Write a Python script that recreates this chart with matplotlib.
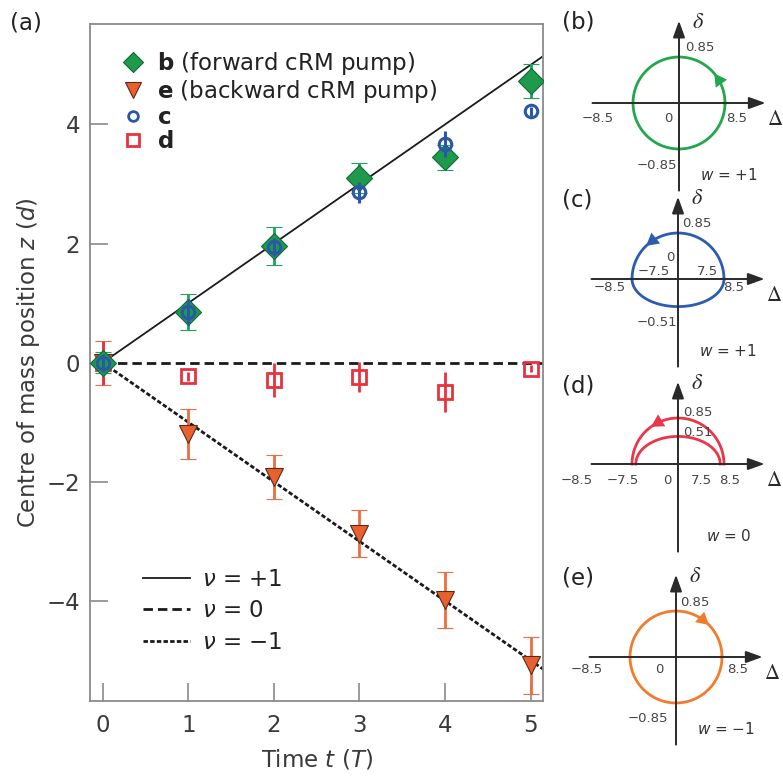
import numpy as np
import matplotlib
matplotlib.use("Agg")
import matplotlib.pyplot as plt
from matplotlib.lines import Line2D

plt.rcParams['font.family'] = ['DejaVu Sans']
plt.rcParams['mathtext.fontset'] = 'dejavusans'

# ---- data, panel (a) ----
t = [0, 1, 2, 3, 4, 5]
z_b = [0.0, 0.85, 1.96, 3.10, 3.45, 4.73]       # forward cRM pump
err_b = [0.18, 0.30, 0.32, 0.25, 0.21, 0.28]
z_e = [0.0, -1.19, -1.92, -2.87, -3.99, -5.08]  # backward cRM pump
err_e = [0.37, 0.42, 0.37, 0.40, 0.47, 0.48]
z_c = [0.0, 0.85, 1.94, 2.86, 3.67, 4.22]
err_c = [0.15, 0.22, 0.15, 0.18, 0.22, 0.08]
z_d = [0.0, -0.23, -0.29, -0.24, -0.49, -0.10]
err_d = [0.37, 0.07, 0.29, 0.25, 0.34, 0.06]

nu_values = [1, 0, -1]
nu_labels = [r'$\nu$ = +1', r'$\nu$ = 0', r'$\nu$ = −1']

# ---- data, panels (b)-(e): loops in (Δ, δ) plane ----
delta_max = 8.5
delta_inner = 7.8
small_delta = [0.85, 0.51]
panel_tags = ['(b)', '(c)', '(d)', '(e)']
w_labels = [r'$w$ = +1', r'$w$ = +1', r'$w$ = 0', r'$w$ = −1']
arrow_deg = [40, 134, 126, 44]
arrow_dir = [1, 1, 1, -1]

GREEN, ORANGE, BLUE, RED = '#1d9a4c', '#e8602e', '#2b57a7', '#e8333f'
LOOP_COLORS = ['#22a84c', '#2c5cb0', '#ea3648', '#f27b2c']

W, H = 783, 781
fig = plt.figure(figsize=(W / 100, H / 100), dpi=100)

# ==========================
# PANEL (a)
# ==========================
ax = fig.add_axes([90 / W, 1 - 701 / H, 453.3 / W, 676.7 / H])
ax.set_xlim(-0.148, 5.147)
ax.set_ylim(-5.68, 5.68)

t_line = np.array([0, 5.4])
ax.plot(t_line, nu_values[0] * t_line, color='#1a1a1a', lw=1.3, zorder=2)
ax.plot(t_line, nu_values[1] * t_line, color='#1a1a1a', lw=2.0, dashes=(3.4, 1.8), zorder=2)
ax.plot(t_line, nu_values[2] * t_line, color='#1a1a1a', lw=2.0, dashes=(1.6, 0.8), zorder=2)

ax.errorbar(t, z_e, yerr=err_e, fmt='v', ms=13, mfc=ORANGE, mec='#5a2a18', mew=0.8,
            ecolor='#ee6c40', elinewidth=2, capsize=6, capthick=2, zorder=3)
ax.errorbar(t, z_d, yerr=err_d, fmt='s', ms=10.5, mfc='none', mec=RED, mew=2,
            ecolor=RED, elinewidth=2, capsize=0, zorder=3)
ax.errorbar(t, z_b, yerr=err_b, fmt='D', ms=13, mfc=GREEN, mec='#0e6a34', mew=0.8,
            ecolor='#1fa35c', elinewidth=2, capsize=6, capthick=2, zorder=4)
ax.errorbar(t, z_c, yerr=err_c, fmt='o', ms=9, mfc='none', mec=BLUE, mew=2.2,
            ecolor=BLUE, elinewidth=2.2, capsize=0, zorder=5)

ax.set_xticks(t)
ax.set_yticks([-4, -2, 0, 2, 4])
ax.tick_params(direction='in', length=13, width=1.1, color='#808080',
               labelsize=16.5, labelcolor='#3a3a3a', pad=7)
ax.tick_params(axis='x', pad=9)
for s in ax.spines.values():
    s.set_color('#8a8a8a')
    s.set_linewidth(1.3)

ax.set_xlabel(r'Time $t$ ($T$)', fontsize=16.5, color='#3a3a3a', va='top')
ax.xaxis.set_label_coords(0.5, -0.069)
ax.set_ylabel(r'Centre of mass position $z$ ($d$)', fontsize=16.5, color='#3a3a3a')
ax.yaxis.set_label_coords(-0.106, 0.5)

pt_handles = [
    Line2D([], [], ls='none', marker='D', ms=10, mfc=GREEN, mec='#0e6a34', mew=0.8),
    Line2D([], [], ls='none', marker='v', ms=11, mfc=ORANGE, mec='#5a2a18', mew=0.8),
    Line2D([], [], ls='none', marker='o', ms=7, mfc='none', mec=BLUE, mew=2),
    Line2D([], [], ls='none', marker='s', ms=8, mfc='none', mec=RED, mew=2),
]
pt_labels = [r'$\mathbf{b}$ (forward cRM pump)', r'$\mathbf{e}$ (backward cRM pump)',
             r'$\mathbf{c}$', r'$\mathbf{d}$']
leg1 = ax.legend(pt_handles, pt_labels, loc='upper left', bbox_to_anchor=(0.070, 0.962),
                 frameon=False, fontsize=16.5, handlelength=1.0, handletextpad=0.52,
                 labelspacing=0.04, borderpad=0, borderaxespad=0, labelcolor='#222222')
ax.add_artist(leg1)

ln_handles = [
    Line2D([], [], color='#1a1a1a', lw=1.3),
    Line2D([], [], color='#1a1a1a', lw=2.0, dashes=(3.4, 1.8)),
    Line2D([], [], color='#1a1a1a', lw=2.0, dashes=(1.6, 0.8)),
]
ax.legend(ln_handles, nu_labels, loc='lower left', bbox_to_anchor=(0.1176, 0.070),
          frameon=False, fontsize=16.5, handlelength=2.04, handletextpad=0.51,
          labelspacing=0.37, borderpad=0, borderaxespad=0, labelcolor='#222222')

fig.text(10 / W, 1 - 23 / H, '(a)', fontsize=16.5, va='center', ha='left', color='#222222')

# ==========================
# PANELS (b)-(e)
# ==========================
PPX, PPY = 5.41, 54.1          # pixels per unit of Δ and δ
XL, YL = (-17.0, 20.0), (-1.75, 1.65)
origins = [(679, 103), (678, 279), (678, 464), (676, 657)]
tag_y = [22, 200, 386, 578]
NUM = dict(fontsize=9.5, color='#444444', ha='center', va='center')

theta_full = np.linspace(0, 2 * np.pi, 300)
theta_up = np.linspace(0, np.pi, 150)
theta_dn = np.linspace(np.pi, 2 * np.pi, 150)

for i, (cx, cy) in enumerate(origins):
    left = (cx + XL[0] * PPX) / W
    bottom = 1 - (cy - YL[0] * PPY) / H
    pa = fig.add_axes([left, bottom, (XL[1] - XL[0]) * PPX / W, (YL[1] - YL[0]) * PPY / H])
    pa.set_xlim(*XL)
    pa.set_ylim(*YL)
    pa.axis('off')
    col = LOOP_COLORS[i]

    arr = dict(arrowstyle='-|>,head_length=0.5,head_width=0.18', color='#2a2a2a', lw=1.4,
               mutation_scale=20, shrinkA=0, shrinkB=0)
    pa.annotate('', xy=(16.0, 0), xytext=(-16.0, 0), arrowprops=arr)
    pa.annotate('', xy=(0, 1.52), xytext=(0, -1.62), arrowprops=arr)
    pa.text(3.6, 1.5, r'$\delta$', fontsize=16, color='#2a2a2a', ha='center', va='center',
            math_fontfamily='stix')
    pa.text(17.7, -0.3, r'$\Delta$', fontsize=15, color='#2a2a2a', ha='center', va='center',
            math_fontfamily='stix')

    if i in (0, 3):
        pa.plot(delta_max * np.cos(theta_full), small_delta[0] * np.sin(theta_full), color=col, lw=2)
    elif i == 1:
        pa.plot(delta_max * np.cos(theta_up), small_delta[0] * np.sin(theta_up), color=col, lw=2)
        pa.plot(delta_max * np.cos(theta_dn), small_delta[1] * np.sin(theta_dn), color=col, lw=2)
    else:
        pa.plot(delta_max * np.cos(theta_up), small_delta[0] * np.sin(theta_up), color=col, lw=2)
        pa.plot(delta_inner * np.cos(theta_up), small_delta[1] * np.sin(theta_up), color=col, lw=2)

    # direction arrowhead on the loop (head at arrow_deg, tail 10 degrees back)
    a1 = np.radians(arrow_deg[i])
    a0 = a1 - arrow_dir[i] * np.radians(10)
    pa.annotate('', xy=(delta_max * np.cos(a1), small_delta[0] * np.sin(a1)),
                xytext=(delta_max * np.cos(a0), small_delta[0] * np.sin(a0)),
                arrowprops=dict(arrowstyle='-|>,head_length=0.45,head_width=0.25', color=col,
                                lw=0, mutation_scale=20, shrinkA=0, shrinkB=0))

    fig.text(562 / W, 1 - tag_y[i] / H, panel_tags[i], fontsize=16.5, va='center', ha='left',
             color='#222222')
    pa.text(9.3, -1.33, w_labels[i], fontsize=11, color='#333333', ha='center', va='center')

# tick-value labels of each loop panel
pb, pc, pd, pe = fig.axes[1:]
pb.text(-15.0, -0.28, '−8.5', **NUM)
pb.text(-2.0, -0.28, '0', **NUM)
pb.text(10.7, -0.28, '8.5', **NUM)
pb.text(3.9, 1.03, '0.85', **NUM)
pb.text(-4.1, -1.15, '−0.85', **NUM)

pc.text(-12.6, -0.15, '−8.5', **NUM)
pc.text(10.2, -0.15, '8.5', **NUM)
pc.text(-4.4, 0.13, '−7.5', **NUM)
pc.text(5.4, 0.13, '7.5', **NUM)
pc.text(-1.5, 0.39, '0', **NUM)
pc.text(3.5, 1.03, '0.85', **NUM)
pc.text(-3.9, -0.81, '−0.51', **NUM)

pd.text(-18.7, -0.30, '−8.5', **NUM)
pd.text(-10.2, -0.30, '−7.5', **NUM)
pd.text(-2.0, -0.30, '0', **NUM)
pd.text(4.4, -0.30, '7.5', **NUM)
pd.text(9.6, -0.30, '8.5', **NUM)
pd.text(3.7, 0.96, '0.85', **NUM)
pd.text(3.7, 0.59, '0.51', **NUM)

pe.text(3.5, 1.0, '0.85', **NUM)
pe.text(-16.5, -0.24, '−8.5', **NUM)
pe.text(-3.0, -0.24, '0', **NUM)
pe.text(11.3, -0.24, '8.5', **NUM)
pe.text(-5.2, -1.13, '−0.85', **NUM)

fig.savefig('out.png', dpi=100)
